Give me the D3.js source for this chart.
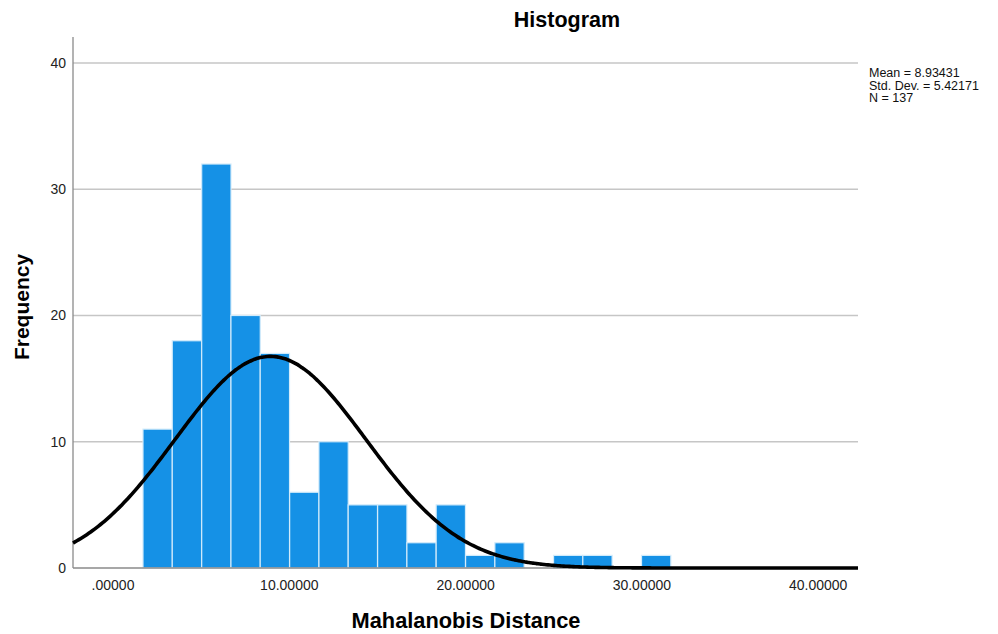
<!DOCTYPE html>
<html>
<head>
<meta charset="utf-8">
<script src="https://cdn.jsdelivr.net/npm/d3@7"></script>
<style>
  body { margin: 0; background: #fff; }
  svg { display: block; font-family: "Liberation Sans", Arial, sans-serif; }
</style>
</head>
<body>
<div id="chart"></div>
<script>
// histogram bins (lower edges) and their counts
const binLower = [1.70, 3.36, 5.03, 6.69, 8.35, 10.02, 11.68, 13.34, 15.01,
  16.67, 18.33, 20.00, 21.66, 23.32, 24.99, 26.65, 28.31, 29.98];
const counts = [11, 18, 32, 20, 17, 6, 10, 5, 5, 2, 5, 1, 2, 0, 1, 1, 0, 1];
const binWidth = 1.663;

const xTicks = [0, 10, 20, 30, 40];
const xTickLabels = [".00000", "10.00000", "20.00000", "30.00000", "40.00000"];
const yTicks = [0, 10, 20, 30, 40];

const mean = 8.93431;
const stdDev = 5.42171;
const n = 137;
const statLines = ["Mean = 8.93431", "Std. Dev. = 5.42171", "N = 137"];

const width = 998;
const height = 634;
const plot = { left: 73, right: 858, top: 37, bottom: 568 };

const svg = d3
  .select("#chart")
  .append("svg")
  .attr("width", width)
  .attr("height", height);

const x = d3.scaleLinear().domain([-2.27, 42.26]).range([plot.left, plot.right]);
const y = d3.scaleLinear().domain([0, 42.06]).range([plot.bottom, plot.top]);

// gridlines
svg
  .append("g")
  .selectAll("line")
  .data(yTicks.filter((d) => d > 0))
  .enter()
  .append("line")
  .attr("x1", plot.left)
  .attr("x2", plot.right)
  .attr("y1", (d) => y(d))
  .attr("y2", (d) => y(d))
  .attr("stroke", "#c6c6c6")
  .attr("stroke-width", 1.3);

// bars
svg
  .append("g")
  .selectAll("rect")
  .data(counts.map((c, i) => ({ lo: binLower[i], c })).filter((d) => d.c > 0))
  .enter()
  .append("rect")
  .attr("x", (d) => x(d.lo))
  .attr("width", (d) => x(d.lo + binWidth) - x(d.lo))
  .attr("y", (d) => y(d.c))
  .attr("height", (d) => y(0) - y(d.c))
  .attr("fill", "#1591e6")
  .attr("stroke", "#d4ecfb")
  .attr("stroke-width", 1.2);

// axes lines
svg
  .append("line")
  .attr("x1", plot.left)
  .attr("x2", plot.left)
  .attr("y1", plot.top)
  .attr("y2", plot.bottom)
  .attr("stroke", "#8a8a8a")
  .attr("stroke-width", 1.3);
svg
  .append("line")
  .attr("x1", plot.left)
  .attr("x2", plot.right)
  .attr("y1", plot.bottom)
  .attr("y2", plot.bottom)
  .attr("stroke", "#8a8a8a")
  .attr("stroke-width", 1.3);

// normal curve
const scaleFactor = n * binWidth;
const pdf = (v) =>
  Math.exp(-0.5 * ((v - mean) / stdDev) ** 2) / (stdDev * Math.sqrt(2 * Math.PI));
const curvePts = d3.range(0, 401).map((i) => {
  const v = x.domain()[0] + (i / 400) * (x.domain()[1] - x.domain()[0]);
  return [v, scaleFactor * pdf(v)];
});
svg
  .append("path")
  .datum(curvePts)
  .attr(
    "d",
    d3
      .line()
      .x((d) => x(d[0]))
      .y((d) => y(d[1]))
      .curve(d3.curveBasis)
  )
  .attr("fill", "none")
  .attr("stroke", "#000")
  .attr("stroke-width", 3.6);

// y tick labels
svg
  .append("g")
  .selectAll("text")
  .data(yTicks)
  .enter()
  .append("text")
  .attr("x", plot.left - 7)
  .attr("y", (d) => y(d))
  .attr("dy", "0.35em")
  .attr("text-anchor", "end")
  .attr("font-size", 14)
  .attr("fill", "#222")
  .text((d) => d);

// x tick labels
svg
  .append("g")
  .selectAll("text")
  .data(xTicks)
  .enter()
  .append("text")
  .attr("x", (d) => x(d))
  .attr("y", 590)
  .attr("text-anchor", "middle")
  .attr("font-size", 14)
  .attr("fill", "#222")
  .text((d, i) => xTickLabels[i]);

// titles
svg
  .append("text")
  .attr("x", 567)
  .attr("y", 27)
  .attr("text-anchor", "middle")
  .attr("font-size", 21.5)
  .attr("font-weight", "bold")
  .text("Histogram");

svg
  .append("text")
  .attr("x", 466)
  .attr("y", 628)
  .attr("text-anchor", "middle")
  .attr("font-size", 21.8)
  .attr("font-weight", "bold")
  .text("Mahalanobis Distance");

svg
  .append("text")
  .attr("transform", "translate(29,307) rotate(-90)")
  .attr("text-anchor", "middle")
  .attr("font-size", 21)
  .attr("font-weight", "bold")
  .text("Frequency");

// stats block
svg
  .append("g")
  .selectAll("text")
  .data(statLines)
  .enter()
  .append("text")
  .attr("x", 869)
  .attr("y", (d, i) => 77 + i * 12.5)
  .attr("font-size", 12.5)
  .attr("fill", "#111")
  .text((d) => d);
</script>
</body>
</html>
